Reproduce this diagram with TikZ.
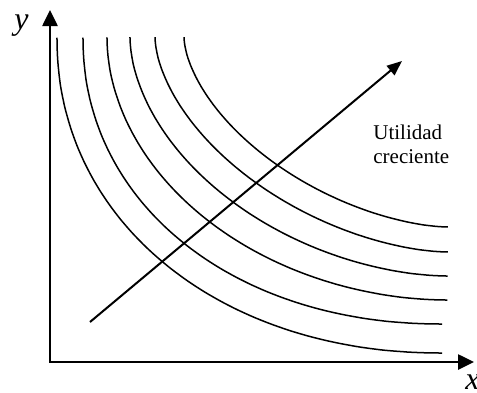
\documentclass[tikz,border=0pt]{standalone}
\usepackage{fontspec}
\setmainfont{Liberation Serif}
\usetikzlibrary{arrows.meta}
\begin{document}
\begin{tikzpicture}[x=0.5pt, y=-0.5pt,
    axisline/.style={line width=1.3pt, {Triangle[length=8pt,width=7.5pt]}-{Triangle[length=8pt,width=7.5pt]}},
    indiff/.style={line width=0.75pt, samples=120, domain=0.1:89.9},
    growth/.style={line width=1pt, -{Triangle[length=7.5pt,width=6pt]}},
    axisname/.style={inner sep=0pt, anchor=base west, font=\fontsize{16}{18}\selectfont\itshape}]
	\useasboundingbox (0,0) rectangle (477,392);
	
	\coordinate (o) at (50,362);
	\coordinate (ytip) at (50,10);
	\coordinate (xtip) at (474,362);
	\draw[axisline] (ytip)--(o)--(xtip);
	
	\node[axisname] (ylab) at (14,29) {y};
	\node[axisname] (xlab) at (465,389) {x};
	
	% curvas de indiferencia
	\draw[indiff] plot ({443-386*pow(cos(\x),0.952)}, {37+316*pow(sin(\x),0.952)});
	\draw[indiff] plot ({443-360*pow(cos(\x),0.952)}, {37+287*pow(sin(\x),0.952)});
	\draw[indiff] plot ({448-341*pow(cos(\x),1.026)}, {37+263*pow(sin(\x),1.026)});
	\draw[indiff] plot ({448-318*pow(cos(\x),1.099)}, {37+239*pow(sin(\x),1.099)});
	\draw[indiff] plot ({448-293*pow(cos(\x),1.17)}, {37+215*pow(sin(\x),1.17)});
	\draw[indiff] plot ({448-264*pow(cos(\x),1.198)}, {37+190*pow(sin(\x),1.198)});
	
	\coordinate (ustart) at (90,322);
	\coordinate (uend) at (402,61);
	\draw[growth] (ustart)--(uend);
	
	\node[inner sep=0pt, anchor=base west, align=left, font=\fontsize{10.5}{12}\selectfont] (util) at (373,163) {Utilidad\\creciente};
\end{tikzpicture}
\end{document}
